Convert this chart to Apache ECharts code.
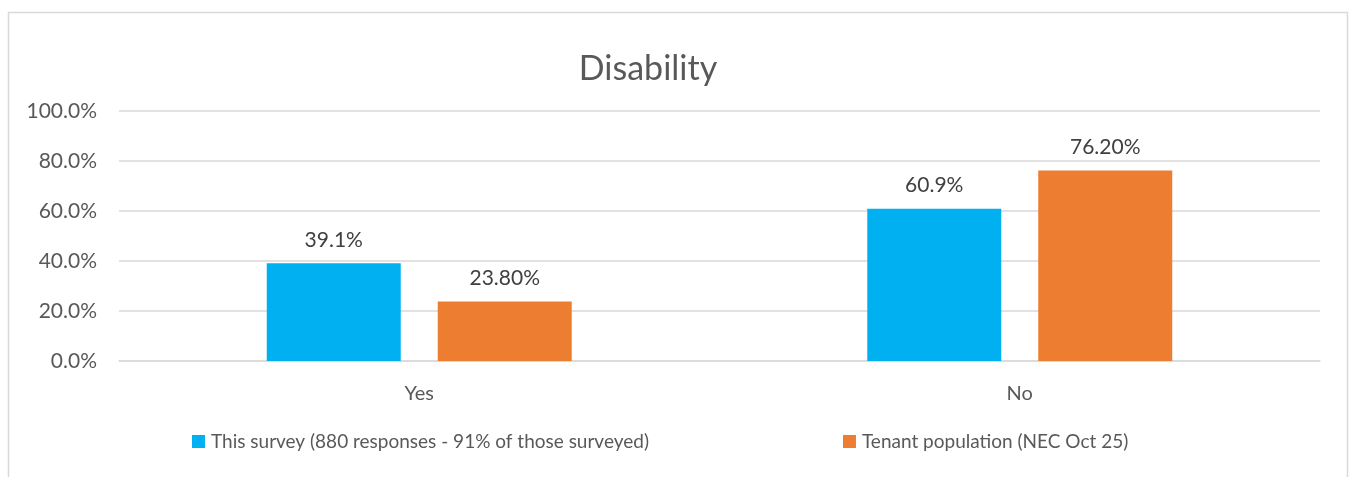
<!DOCTYPE html>
<html><head><meta charset="utf-8">
<script src="https://cdn.jsdelivr.net/npm/echarts@6/dist/echarts.min.js"></script>
<style>html,body{margin:0;padding:0;background:#fff}#c{width:1352px;height:477px}</style>
</head><body><div id="c"></div>
<script>
const categories = ['Yes', 'No'];
const seriesNames = ['This survey (880 responses - 91% of those surveyed)', 'Tenant population (NEC Oct 25)'];
const surveyValues = [39.1, 60.9];
const tenantValues = [23.8, 76.2];
const surveyLabels = ['39.1%', '60.9%'];
const tenantLabels = ['23.80%', '76.20%'];
const yTicks = [0, 20, 40, 60, 80, 100];

const FONT = 'Lato, "Open Sans", sans-serif';
const chart = echarts.init(document.getElementById('c'), null, {renderer: 'canvas'});
chart.setOption({
  animation: false,
  title: {
    text: 'Disability', left: 643, top: 47, textAlign: 'center',
    textStyle: {fontFamily: FONT, fontSize: 34, fontWeight: 'normal', color: '#595959'}
  },
  graphic: [{
    type: 'rect', shape: {x: 8.5, y: 12.5, width: 1339, height: 480},
    style: {fill: 'none', stroke: '#d9d9d9', lineWidth: 1.5}, silent: true, z: -1
  }],
  legend: {
    bottom: 21, left: 187, itemWidth: 13, itemHeight: 13, itemGap: 194,
    icon: 'rect',
    textStyle: {fontFamily: FONT, fontSize: 19, color: '#595959', padding: [0, 0, 0, 1]},
    data: seriesNames
  },
  grid: {left: 119, right: 32, top: 111, bottom: 116, containLabel: false},
  xAxis: {
    type: 'category', data: categories,
    axisLine: {show: true, lineStyle: {color: '#d9d9d9', width: 1.5}},
    axisTick: {show: false},
    axisLabel: {fontFamily: FONT, fontSize: 20, color: '#595959', margin: 23}
  },
  yAxis: {
    type: 'value', min: 0, max: 100, interval: 20,
    axisLine: {show: false}, axisTick: {show: false},
    splitLine: {lineStyle: {color: '#d9d9d9', width: 1.5}},
    axisLabel: {
      fontFamily: FONT, fontSize: 21, color: '#595959', margin: 22,
      formatter: v => yTicks.includes(v) ? v.toFixed(1) + '%' : ''
    }
  },
  series: [
    {
      name: seriesNames[0], type: 'bar', data: surveyValues, barWidth: 134, barGap: '27.6%',
      itemStyle: {color: '#00b0f0'},
      label: {show: true, position: 'top', distance: 13, fontFamily: FONT, fontSize: 21, color: '#404040',
        formatter: p => surveyLabels[p.dataIndex]}
    },
    {
      name: seriesNames[1], type: 'bar', data: tenantValues, barWidth: 134,
      itemStyle: {color: '#ed7d31'},
      label: {show: true, position: 'top', distance: 13, fontFamily: FONT, fontSize: 21, color: '#404040',
        formatter: p => tenantLabels[p.dataIndex]}
    }
  ]
});
</script></body></html>
